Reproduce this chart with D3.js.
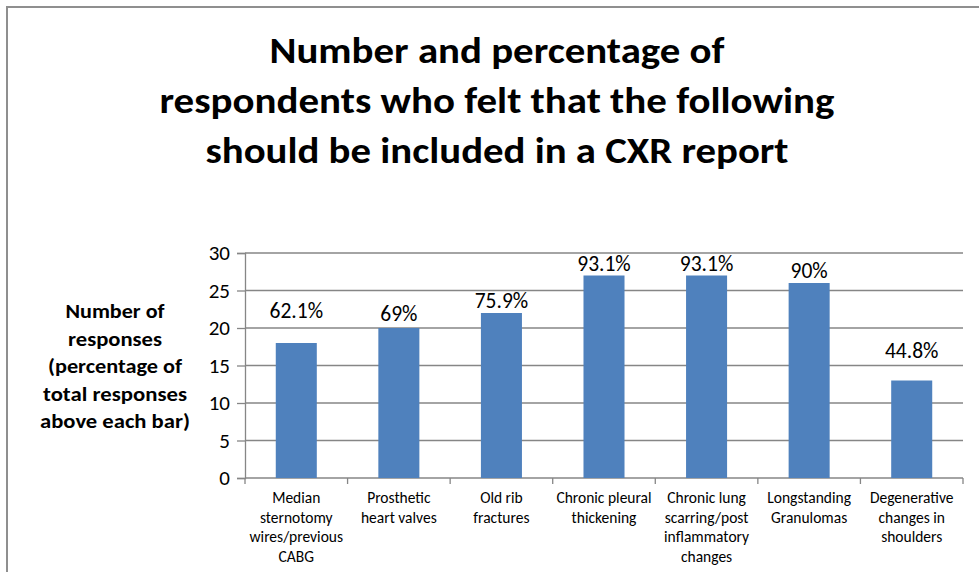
<!DOCTYPE html>
<html>
<head>
<meta charset="utf-8">
<script src="https://cdn.jsdelivr.net/npm/d3@7"></script>
<style>
  html, body { margin: 0; padding: 0; background: #fff; }
  svg { display: block; }
  text { font-family: Carlito, Calibri, Lato, "Open Sans", sans-serif; fill: #000; }
</style>
</head>
<body>
<svg id="chart" width="979" height="572"></svg>
<script>
// Survey results: items respondents felt should be included in a CXR report
const categories = [
  ["Median", "sternotomy", "wires/previous", "CABG"],
  ["Prosthetic", "heart valves"],
  ["Old rib", "fractures"],
  ["Chronic pleural", "thickening"],
  ["Chronic lung", "scarring/post", "inflammatory", "changes"],
  ["Longstanding", "Granulomas"],
  ["Degenerative", "changes in", "shoulders"]
];
const responses = [18, 20, 22, 27, 27, 26, 13];
const percentLabels = ["62.1%", "69%", "75.9%", "93.1%", "93.1%", "90%", "44.8%"];
const yTicks = [0, 5, 10, 15, 20, 25, 30];
const titleLines = [
  "Number and percentage of",
  "respondents who felt that the following",
  "should be included in a CXR report"
];
const yTitleLines = [
  "Number of",
  "responses",
  "(percentage of",
  "total responses",
  "above each bar)"
];

const svg = d3.select("#chart");
const W = 979, H = 572;
const plot = { left: 245, right: 963, top: 253, bottom: 478 };
const gridColor = "#868686";
const barColor = "#4F81BD";

// outer chart frame (runs off the right and bottom edges)
svg.append("rect")
  .attr("x", 7).attr("y", 7)
  .attr("width", W + 20).attr("height", H + 20)
  .attr("fill", "none")
  .attr("stroke", "#8f8f8f")
  .attr("stroke-width", 2);

// title
const titleWidths = [455, 675, 583];
svg.append("g").selectAll("text")
  .data(titleLines)
  .join("text")
  .attr("x", 497)
  .attr("y", (d, i) => 63 + i * 50)
  .attr("text-anchor", "middle")
  .attr("font-size", 37)
  .attr("font-weight", "bold")
  .attr("textLength", (d, i) => titleWidths[i])
  .attr("lengthAdjust", "spacingAndGlyphs")
  .text(d => d);

// scales
const x = d3.scaleBand()
  .domain(d3.range(categories.length))
  .range([plot.left, plot.right])
  .paddingInner(0.6)
  .paddingOuter(0.3);

const y = d3.scaleLinear()
  .domain([0, 30])
  .range([plot.bottom, plot.top]);

// horizontal gridlines
svg.append("g").selectAll("line")
  .data(yTicks.filter(t => t > 0))
  .join("line")
  .attr("x1", plot.left).attr("x2", plot.right)
  .attr("y1", d => y(d)).attr("y2", d => y(d))
  .attr("stroke", gridColor)
  .attr("stroke-width", 1.3);

// y axis
const yAxis = svg.append("g")
  .attr("transform", `translate(${plot.left},0)`)
  .call(d3.axisLeft(y).tickValues(yTicks).tickSize(8).tickPadding(7));
yAxis.select(".domain").attr("stroke", gridColor).attr("stroke-width", 1.3);
yAxis.selectAll(".tick line").attr("stroke", gridColor).attr("stroke-width", 1.3);
yAxis.selectAll(".tick text")
  .attr("font-size", 21)
  .attr("font-family", "Carlito, Calibri, Lato, sans-serif")
  .attr("fill", "#000");

// x axis: ticks fall between the categories
const catStep = (plot.right - plot.left) / categories.length;
const xAxisG = svg.append("g");
xAxisG.append("line")
  .attr("x1", plot.left).attr("x2", plot.right)
  .attr("y1", plot.bottom).attr("y2", plot.bottom)
  .attr("stroke", gridColor).attr("stroke-width", 1.3);
xAxisG.selectAll("line.tick")
  .data(d3.range(categories.length + 1))
  .join("line")
  .attr("class", "tick")
  .attr("x1", i => plot.left + i * catStep)
  .attr("x2", i => plot.left + i * catStep)
  .attr("y1", plot.bottom).attr("y2", plot.bottom + 6)
  .attr("stroke", gridColor).attr("stroke-width", 1.3);

// category labels
const catG = svg.append("g").selectAll("text")
  .data(categories)
  .join("text")
  .attr("text-anchor", "middle")
  .attr("font-size", 15.5);
catG.selectAll("tspan")
  .data((d, i) => d.map(line => ({ line, i })))
  .join("tspan")
  .attr("x", d => x(d.i) + x.bandwidth() / 2)
  .attr("y", (d, j) => 503 + j * 19.5)
  .text(d => d.line);

// bars
svg.append("g").selectAll("rect")
  .data(responses)
  .join("rect")
  .attr("x", (d, i) => x(i))
  .attr("y", d => y(d))
  .attr("width", x.bandwidth())
  .attr("height", d => y(0) - y(d))
  .attr("fill", barColor);

// percentage labels above bars (a few are lifted clear of the gridlines)
const labelLift = [25, 7, 5, 5, 5, 5, 23];
svg.append("g").selectAll("text")
  .data(responses)
  .join("text")
  .attr("x", (d, i) => x(i) + x.bandwidth() / 2)
  .attr("y", (d, i) => y(d) - labelLift[i])
  .attr("text-anchor", "middle")
  .attr("font-size", 21.5)
  .text((d, i) => percentLabels[i]);

// y axis title
const yTitleWidths = [99, 94, 134, 144, 150];
svg.append("g").selectAll("text")
  .data(yTitleLines)
  .join("text")
  .attr("x", 115)
  .attr("y", (d, i) => 318 + i * 27.5)
  .attr("text-anchor", "middle")
  .attr("font-size", 20.5)
  .attr("font-weight", "bold")
  .attr("textLength", (d, i) => yTitleWidths[i])
  .attr("lengthAdjust", "spacingAndGlyphs")
  .text(d => d);
</script>
</body>
</html>
